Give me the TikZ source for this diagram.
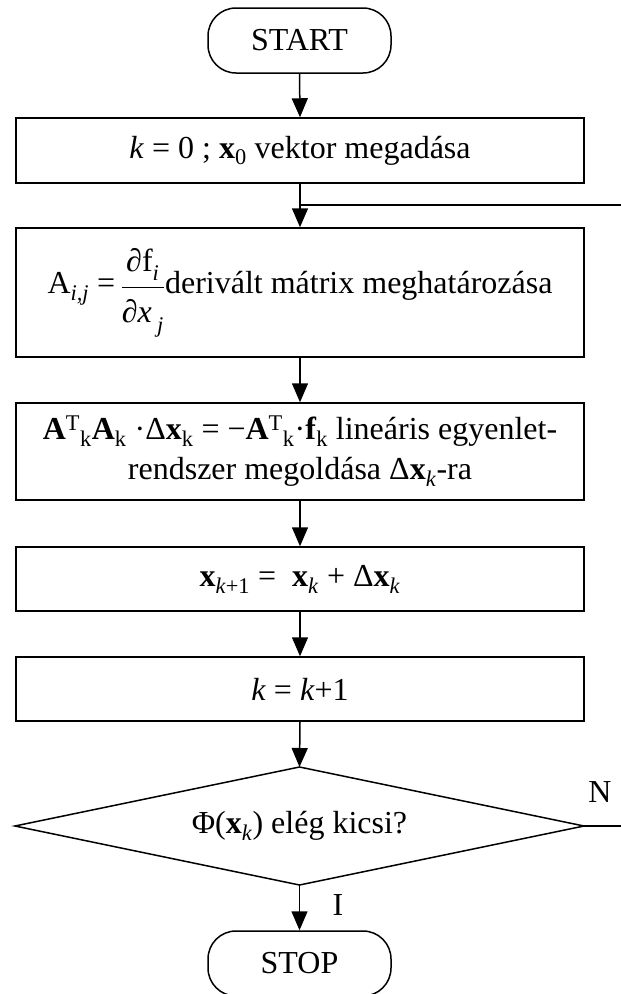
\documentclass[tikz,border=0pt]{standalone}
\usepackage{fontspec}
\setmainfont{Liberation Serif}
\usetikzlibrary{arrows.meta}
\begin{document}
\begin{tikzpicture}[x=1pt,y=-1pt,
  every node/.style={font=\fontsize{32}{40}\selectfont},
  line/.style={line width=1.5pt},
  box/.style={draw, line width=1.5pt, minimum width=568pt, inner sep=0pt, align=center},
  term/.style={draw, line width=1.5pt, rounded corners=28pt, minimum width=183pt, minimum height=65pt, inner sep=0pt},
  arr/.style={line width=1.5pt, -{Triangle[length=19pt,width=16pt]}},
  lbl/.style={inner sep=0pt}]
\useasboundingbox (0,0) rectangle (621,994);
\clip (0,0) rectangle (621,994);

\node[term] (start) at (299.5,40.5) {START};
\node[box, minimum height=65pt] (b1) at (300,150.5) {\textit{k} = 0 ; \textbf{x}\textsubscript{0} vektor megadása};
\node[box, minimum height=129pt] (b2) at (300,292.5) {A\textsubscript{\textit{i,j}} =\,$\displaystyle\frac{\hbox{∂f\raisebox{-3pt}{\textsubscript{\textit{i}}}\rule[-15pt]{0pt}{15pt}}}{\hbox{\rule{0pt}{34pt}∂\textit{x}\,\raisebox{-3pt}{\textsubscript{\textit{j}}}}}$derivált mátrix meghatározása};
\node[box, minimum height=97pt] (b3) at (300,451.5) {\textbf{A}\textsuperscript{T}\textsubscript{k}\textbf{A}\textsubscript{k} ·Δ\textbf{x}\textsubscript{k} = −\textbf{A}\textsuperscript{T}\textsubscript{k}·\textbf{f}\textsubscript{k} lineáris egyenlet-\\rendszer megoldása Δ\textbf{x}\textsubscript{\textit{k}}-ra};
\node[box, minimum height=64pt] (b4) at (300,579) {\textbf{x}\textsubscript{\textit{k}+1} =\ \ \textbf{x}\textsubscript{\textit{k}} + Δ\textbf{x}\textsubscript{\textit{k}}};
\node[box, minimum height=64pt] (b5) at (300,689) {\textit{k} = \textit{k}+1};

% decision diamond
\node[inner sep=0pt] (d) at (299.5,826) {Φ(\textbf{x}\textsubscript{\textit{k}}) elég kicsi?};
\coordinate (dn) at (299.5,767);
\coordinate (ds) at (299.5,885);
\coordinate (dw) at (15,826);
\coordinate (de) at (584,826);
\draw[line, line join=miter] (dn) -- (de) -- (ds) -- (dw) -- cycle;

\node[term] (stop) at (299.5,963.5) {STOP};

\node[lbl] (nl) at (600,792) {N};
\node[lbl] (il) at (338,905) {I};

\coordinate (jn) at (300,205);
\coordinate (edgetop) at (621,205);
\coordinate (edgebot) at (621,826);

\draw[arr] (start.south) -- (b1.north);
\draw[arr] (b1.south) -- (b2.north);
\draw[arr] (b2.south) -- (b3.north);
\draw[arr] (b3.south) -- (b4.north);
\draw[arr] (b4.south) -- (b5.north);
\draw[arr] (b5.south) -- (dn);
\draw[arr] (ds) -- (stop.north);
\draw[line] (de) -- (edgebot);
\draw[line] (edgetop) -- (jn);
\end{tikzpicture}
\end{document}
